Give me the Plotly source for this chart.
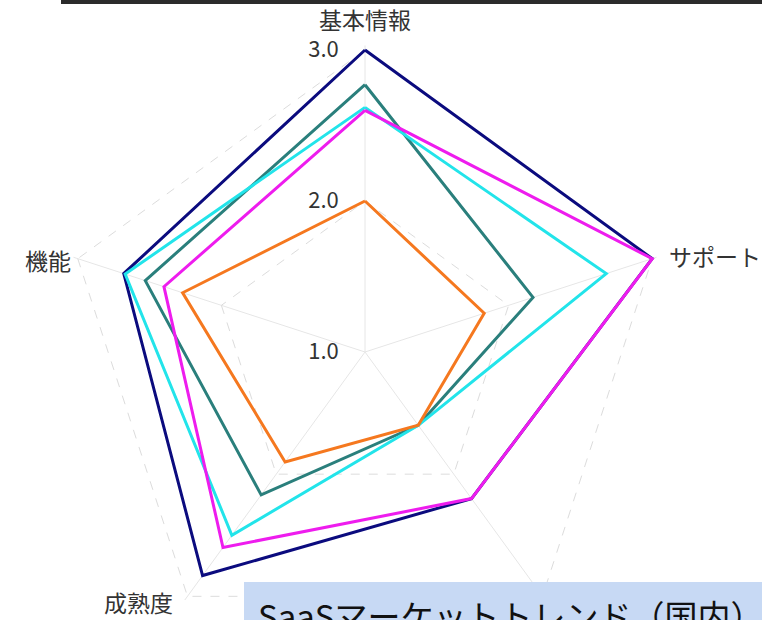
import math
import plotly.graph_objects as go

# Evaluation axes, clockwise from the top
categories = ["基本情報", "サポート", "価格", "成熟度", "機能"]

# Scores per product (same order as categories)
series_names = ["製品A", "製品B", "製品C", "製品D", "製品E"]
scores_a = [3.0, 3.0, 2.2, 2.83, 2.68]
scores_b = [2.77, 2.17, 1.6, 2.17, 2.53]
scores_c = [2.62, 2.68, 1.6, 2.5, 2.67]
scores_d = [2.6, 3.0, 2.2, 2.6, 2.4]
scores_e = [2.0, 1.83, 1.6, 1.9, 2.27]

radial_ticks = [1, 2, 3]
radial_ticktext = ["1.0", "2.0", "3.0"]

caption = "SaaSマーケットトレンド（国内）の状況"

colors = ["#0b0b7e", "#2a7f7c", "#22e4ea", "#ee1cee", "#f5781f"]
all_scores = [scores_a, scores_b, scores_c, scores_d, scores_e]

W, H = 762, 680
FONT = "Noto Sans CJK JP"

fig = go.Figure()
for name, vals, col in zip(series_names, all_scores, colors):
    fig.add_trace(go.Scatterpolar(
        r=vals + vals[:1],
        theta=categories + categories[:1],
        mode="lines",
        name=name,
        line=dict(color=col, width=3),
        showlegend=False,
        hoverinfo="skip",
    ))

# polar geometry (pixels): centre, radius of the 3.0 ring
cx, cy, r3 = 365, 352, 302
r_lo, r_hi = 1.0, 3.03                       # small headroom so the 3.0 ring is drawn
rad = r3 * (r_hi - r_lo) / (3.0 - r_lo)      # outer radius of the polar domain


def px(x):
    return x / W


def py(y):
    return 1 - y / H


# category labels placed just outside the 3.0 vertex of each spoke
label_style = {
    "基本情報": dict(dx=0, dy=-12, xanchor="center", yanchor="bottom"),
    "サポート": dict(dx=15, dy=-3, xanchor="left", yanchor="middle"),
    "成熟度": dict(dx=-12, dy=6, xanchor="right", yanchor="middle"),
    "機能": dict(dx=-5, dy=1, xanchor="right", yanchor="middle"),
}
annotations = []
n = len(categories)
for i, cat in enumerate(categories):
    if cat not in label_style:
        continue
    st = label_style[cat]
    ang = math.radians(90 - 360 * i / n)
    vx = cx + r3 * math.cos(ang)
    vy = cy - r3 * math.sin(ang)
    annotations.append(dict(
        text=cat, xref="paper", yref="paper",
        x=px(vx + st["dx"]), y=py(vy + st["dy"]),
        xanchor=st["xanchor"], yanchor=st["yanchor"], showarrow=False,
        font=dict(size=23, color="#333333", family=FONT),
    ))

annotations.append(dict(
    text=caption, xref="paper", yref="paper",
    x=px(256), y=py(615), xanchor="left", yanchor="middle",
    showarrow=False, font=dict(size=33, color="#111111", family=FONT),
))

fig.update_layout(
    width=W, height=H,
    margin=dict(l=0, r=0, t=0, b=0),
    paper_bgcolor="white",
    font=dict(family=FONT, color="#333333"),
    polar=dict(
        domain=dict(x=[px(cx - rad), px(cx + rad)],
                    y=[py(cy + rad), py(cy - rad)]),
        bgcolor="white",
        gridshape="linear",
        radialaxis=dict(
            range=[r_lo, r_hi],
            tickvals=radial_ticks,
            ticktext=radial_ticktext,
            angle=90,
            tickangle=90,
            side="counterclockwise",
            showline=False,
            ticks="outside", ticklen=18, tickcolor="rgba(0,0,0,0)",
            tickfont=dict(size=22, color="#333333"),
            gridcolor="#dcdcdc", griddash="dash", gridwidth=1,
        ),
        angularaxis=dict(
            direction="clockwise",
            rotation=90,
            showline=False,
            showticklabels=False,
            ticks="",
            gridcolor="#e6e6e6", gridwidth=1,
        ),
    ),
    shapes=[
        dict(type="rect", xref="paper", yref="paper", layer="above",
             x0=px(61), x1=1.0, y0=py(4), y1=1.0,
             fillcolor="#2b2b2b", line=dict(width=0)),
        dict(type="rect", xref="paper", yref="paper", layer="above",
             x0=px(244), x1=1.0, y0=0.0, y1=py(582),
             fillcolor="#c7d9f4", line=dict(width=0)),
    ],
    annotations=annotations,
)

post = (
    "var gd=document.getElementById('{plot_id}');"
    "document.body.style.margin='0';"
    "gd.parentElement.style.height='620px';"
    "gd.parentElement.style.overflow='hidden';"
)
fig.write_html("out.html", post_script=post)
